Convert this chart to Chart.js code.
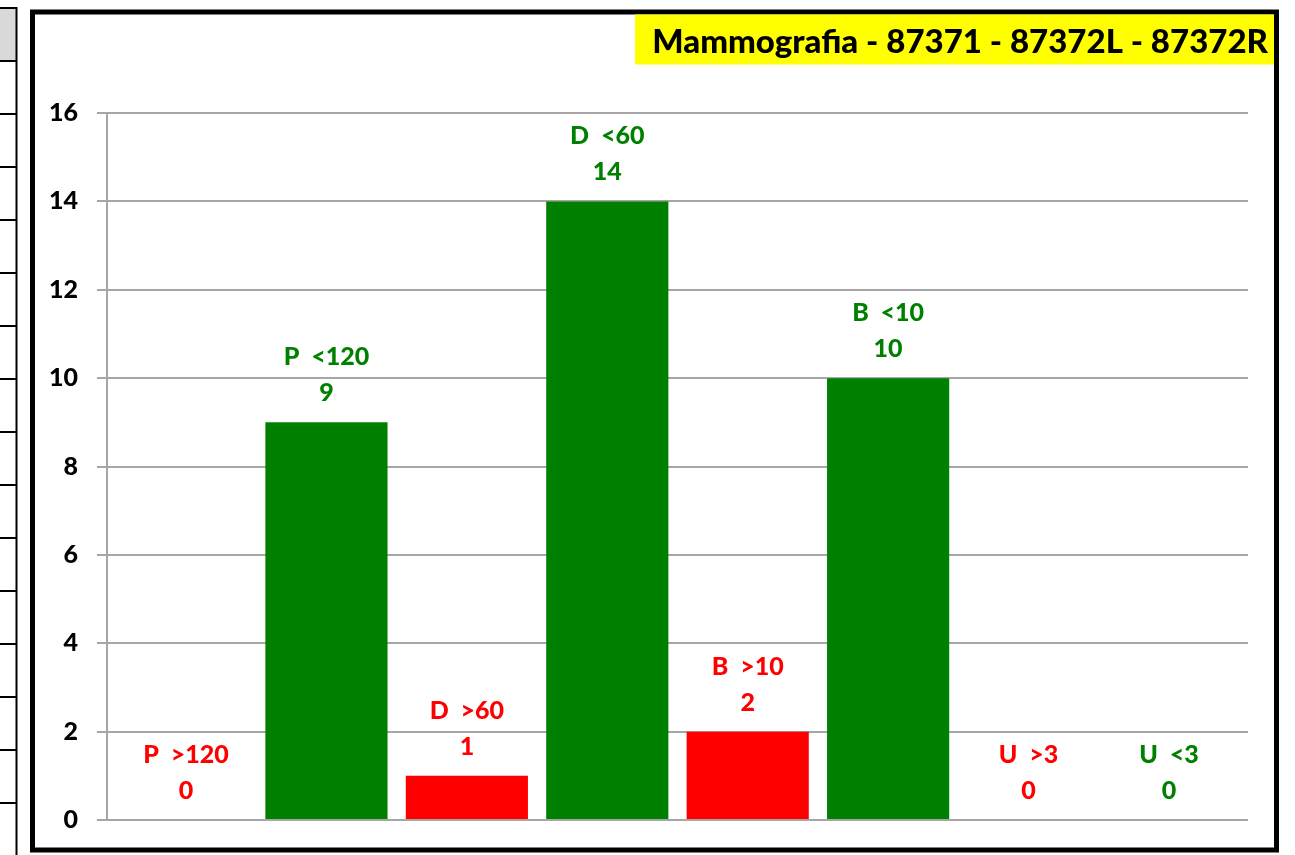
<!DOCTYPE html>
<html>
<head>
<meta charset="utf-8">
<title>Mammografia</title>
<script src="https://cdn.jsdelivr.net/npm/chart.js@4.4.0/dist/chart.umd.min.js"></script>
<style>
  html, body { margin: 0; padding: 0; background: #fff; }
  #wrap { width: 1295px; height: 855px; }
</style>
</head>
<body>
<div id="wrap"><canvas id="mammoChart" width="1295" height="855"></canvas></div>
<script>
const chartTitle = 'Mammografia - 87371 - 87372L - 87372R';
const categories = ['P  >120', 'P  <120', 'D  >60', 'D  <60', 'B  >10', 'B  <10', 'U  >3', 'U  <3'];
const counts = [0, 9, 1, 14, 2, 10, 0, 0];
const yTicks = [0, 2, 4, 6, 8, 10, 12, 14, 16];

const GREEN = '#008000';
const RED = '#ff0000';
const FONT = 'Lato, "DejaVu Sans", sans-serif';

// ">" thresholds are over the limit -> red, "<" within -> green
const barColors = categories.map(c => c.includes('>') ? RED : GREEN);

// white page, the leftover sheet column on the left, the frame and the title box
const sheetBackground = {
  id: 'sheetBackground',
  beforeDraw(chart) {
    const ctx = chart.ctx;
    ctx.save();
    ctx.fillStyle = '#fff';
    ctx.fillRect(0, 0, chart.width, chart.height);

    ctx.fillStyle = '#d9d9d9';
    ctx.fillRect(0, 8, 16, 53);
    ctx.strokeStyle = '#000';
    ctx.lineWidth = 2;
    ctx.beginPath();
    ctx.moveTo(0, 8); ctx.lineTo(17, 8);
    ctx.moveTo(16.5, 7); ctx.lineTo(16.5, chart.height);
    for (let y = 61; y < chart.height - 20; y += 53) {
      ctx.moveTo(0, y); ctx.lineTo(16, y);
    }
    ctx.stroke();

    ctx.lineWidth = 5;
    ctx.strokeRect(32.5, 12, 1244, 838);

    ctx.fillStyle = '#ffff00';
    ctx.fillRect(635, 14.5, 639, 50);
    ctx.fillStyle = '#000';
    ctx.font = '900 33px ' + FONT;
    ctx.textAlign = 'right';
    ctx.textBaseline = 'alphabetic';
    ctx.fillText(chartTitle, 1268, 53);
    ctx.restore();
  }
};

// two-line label above every bar: category, then count
const valueLabels = {
  id: 'valueLabels',
  afterDatasetsDraw(chart) {
    const ctx = chart.ctx;
    const meta = chart.getDatasetMeta(0);
    ctx.save();
    ctx.font = '900 25px ' + FONT;
    ctx.textAlign = 'center';
    ctx.textBaseline = 'middle';
    meta.data.forEach((bar, i) => {
      ctx.fillStyle = barColors[i];
      ctx.fillText(categories[i], bar.x, bar.y - 65);
      ctx.fillText(String(counts[i]), bar.x, bar.y - 29);
    });
    ctx.restore();
  }
};

new Chart(document.getElementById('mammoChart'), {
  type: 'bar',
  data: {
    datasets: [{
      data: counts.map((v, i) => ({ x: i, y: v })),
      backgroundColor: barColors,
      borderWidth: 0,
      barPercentage: 0.87,
      categoryPercentage: 1.0
    }]
  },
  options: {
    responsive: false,
    animation: false,
    events: [],
    layout: { padding: { top: 113, right: 47, bottom: 35, left: 0 } },
    plugins: {
      legend: { display: false },
      tooltip: { enabled: false }
    },
    scales: {
      x: {
        type: 'linear',
        display: false,
        offset: false,
        min: -0.563,
        max: 7.563,
        // one tick per category so bar width follows the category spacing
        afterBuildTicks(scale) { scale.ticks = categories.map((c, i) => ({ value: i })); }
      },
      y: {
        min: 0,
        max: 16,
        afterFit(scale) { scale.width = 107; },
        afterBuildTicks(scale) { scale.ticks = yTicks.map(v => ({ value: v })); },
        ticks: {
          color: '#000',
          padding: 19,
          font: { family: FONT, size: 25, weight: '900' }
        },
        grid: { color: '#a6a6a6', lineWidth: 2, tickLength: 10 },
        border: { color: '#a6a6a6', width: 2 }
      }
    }
  },
  plugins: [sheetBackground, valueLabels]
});
</script>
</body>
</html>
